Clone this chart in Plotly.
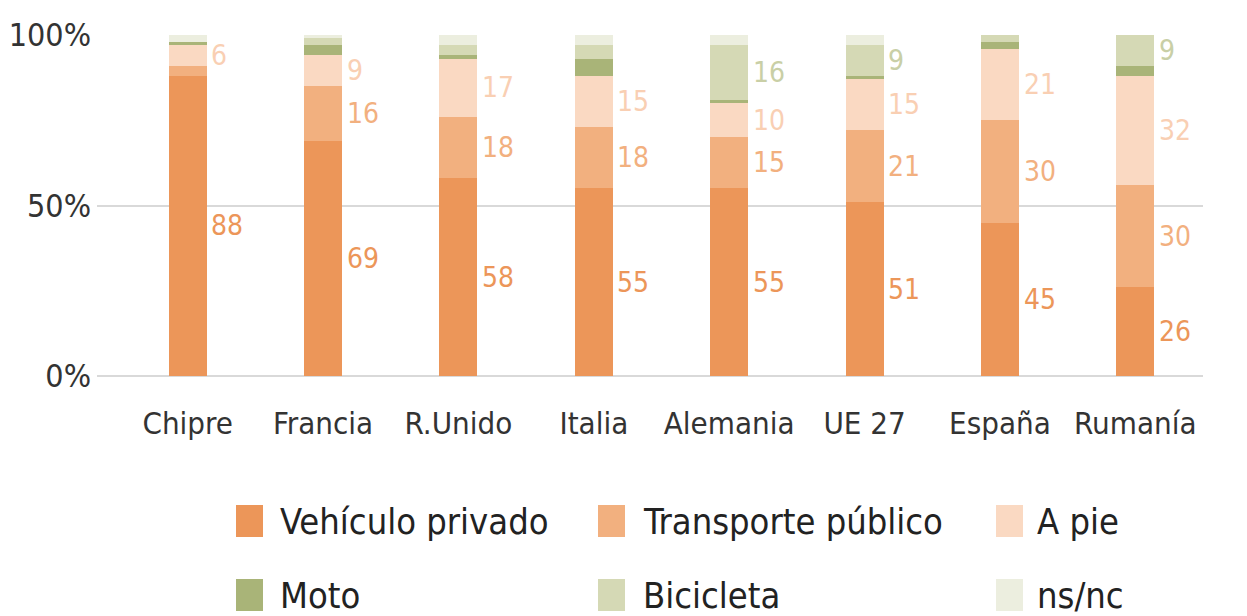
import plotly.graph_objects as go

categories = ["Chipre", "Francia", "R.Unido", "Italia", "Alemania", "UE 27", "España", "Rumanía"]
series_names = ["Vehículo privado", "Transporte público", "A pie", "Moto", "Bicicleta", "ns/nc"]
vehiculo = [88, 69, 58, 55, 55, 51, 45, 26]
transporte = [3, 16, 18, 18, 15, 21, 30, 30]
a_pie = [6, 9, 17, 15, 10, 15, 21, 32]
moto = [1, 3, 1, 5, 1, 1, 2, 3]
bicicleta = [0, 2, 3, 4, 16, 9, 2, 9]
nsnc = [2, 1, 3, 3, 3, 3, 0, 0]
# which values are labelled in the chart
show_labels = [
    [True] * 8,
    [False, True, True, True, True, True, True, True],
    [True] * 8,
    [False] * 8,
    [False, False, False, False, True, True, False, True],
    [False] * 8,
]
tick_vals = [0, 50, 100]
tick_text = ["0%", "50%", "100%"]

colors = ["#ec9659", "#f2b07f", "#fad9c2", "#a9b478", "#d5d9b5", "#eceedf"]
label_colors = ["#ec9659", "#f2b07f", "#f9cfb3", "#a9b478", "#c9cfa6", "#eceedf"]
series = [vehiculo, transporte, a_pie, moto, bicicleta, nsnc]

FONT = "DejaVu Sans Condensed, DejaVu Sans, sans-serif"

W, H = 1247, 616
L, R, T, B = 97, 44, 35, 240
PW, PH = W - L - R, H - T - B


def px_x(p):
    return (p - L) / PW


def px_y(p):
    return (H - B - p) / PH


fig = go.Figure()
for k, (name, vals) in enumerate(zip(series_names, series)):
    fig.add_trace(go.Bar(
        x=list(range(len(categories))), y=vals, name=name,
        marker=dict(color=colors[k], line=dict(width=0)),
        width=0.28, hoverinfo="skip", showlegend=False,
    ))

annotations = []
for i in range(len(categories)):
    base = 0
    for k, vals in enumerate(series):
        v = vals[i]
        if show_labels[k][i]:
            annotations.append(dict(
                x=i + 0.16, y=base + v / 2, xref="x", yref="y",
                text=str(v), showarrow=False, xanchor="left", yanchor="middle",
                font=dict(size=28, color=label_colors[k], family=FONT),
            ))
        base += v

# manual legend (3 columns x 2 rows)
leg_sq_x = [236, 598, 996]
leg_txt_x = [278, 641, 1035]
leg_row_y = [521, 595]
shapes = []
for k, name in enumerate(series_names):
    col, row = k % 3, k // 3
    cy = leg_row_y[row]
    shapes.append(dict(
        type="rect", xref="paper", yref="paper",
        x0=px_x(leg_sq_x[col]), x1=px_x(leg_sq_x[col] + 27),
        y0=px_y(cy + 16), y1=px_y(cy - 16),
        fillcolor=colors[k], line=dict(width=0),
    ))
    annotations.append(dict(
        x=px_x(leg_txt_x[col]), y=px_y(cy), xref="paper", yref="paper",
        text=name, showarrow=False, xanchor="left", yanchor="middle",
        font=dict(size=36, color="#222222", family=FONT),
    ))

fig.update_layout(
    barmode="stack",
    width=W, height=H,
    margin=dict(l=L, r=R, t=T, b=B),
    paper_bgcolor="white", plot_bgcolor="white",
    font=dict(family=FONT, color="#333333"),
    annotations=annotations,
    shapes=shapes,
    showlegend=False,
)
fig.update_xaxes(
    range=[-0.67, 7.5], tickmode="array",
    tickvals=list(range(len(categories))), ticktext=categories,
    showgrid=False, zeroline=False, showline=False, ticks="",
    tickfont=dict(size=31, color="#333333", family=FONT),
    tickangle=0, ticklabelstandoff=26, automargin=False,
)
fig.update_yaxes(
    range=[0, 100], tickmode="array", tickvals=tick_vals, ticktext=tick_text,
    showgrid=True, gridcolor="#d9d9d9", gridwidth=2,
    zeroline=True, zerolinecolor="#d9d9d9", zerolinewidth=2,
    showline=False, ticks="",
    tickfont=dict(size=32, color="#333333", family=FONT),
    ticklabelstandoff=5, automargin=False,
)
fig.write_html("out.html", config={"displayModeBar": False},
               post_script="document.body.style.margin='0';")
